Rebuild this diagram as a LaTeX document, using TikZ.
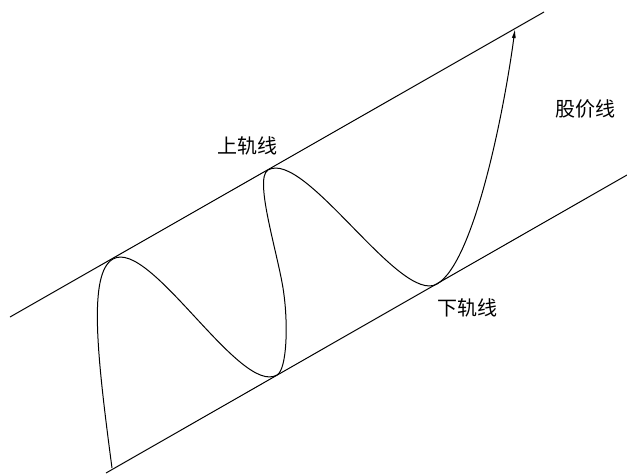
\documentclass[tikz,border=0pt]{standalone}
\usepackage{fontspec}
\newfontfamily\cjk{Noto Sans CJK SC}
\usetikzlibrary{arrows.meta}
\begin{document}
\begin{tikzpicture}[x=1pt,y=-1pt,
  rail/.style={line width=1pt},
  price/.style={line width=1pt},
  lbl/.style={font=\cjk\fontsize{20}{24}\selectfont, inner sep=0pt}]
\useasboundingbox (0,0) rectangle (627,475);
% rails
\coordinate (u1) at (10,317);
\coordinate (u2) at (544,12);
\coordinate (l1) at (106,473);
\coordinate (l2) at (627,175);
\draw[rail] (u1) -- (u2);
\draw[rail] (l1) -- (l2);
% price curve
\coordinate (s) at (112,468);
\coordinate (p1) at (113,259);
\coordinate (p2) at (277,375);
\coordinate (m) at (284,295);
\coordinate (p3) at (268,170);
\coordinate (p4) at (437,284);
\coordinate (e) at (515,29);
\draw[price,-{Latex[length=9pt,width=4pt]}]
  (s) .. controls (97,355) and (88,273.3) .. (p1)
      .. controls (150,237.9) and (240,396) .. (p2)
      .. controls (287,369.3) and (288,325) .. (m)
      .. controls (280,260) and (253,178.6) .. (p3)
      .. controls (305,149) and (400,305) .. (p4)
      .. controls (475,262) and (505,105) .. (e);
% labels
\node[lbl] (up) at (247.5,146) {上轨线};
\node[lbl] (pr) at (585,109) {股价线};
\node[lbl] (dn) at (467.5,308) {下轨线};
\end{tikzpicture}
\end{document}
